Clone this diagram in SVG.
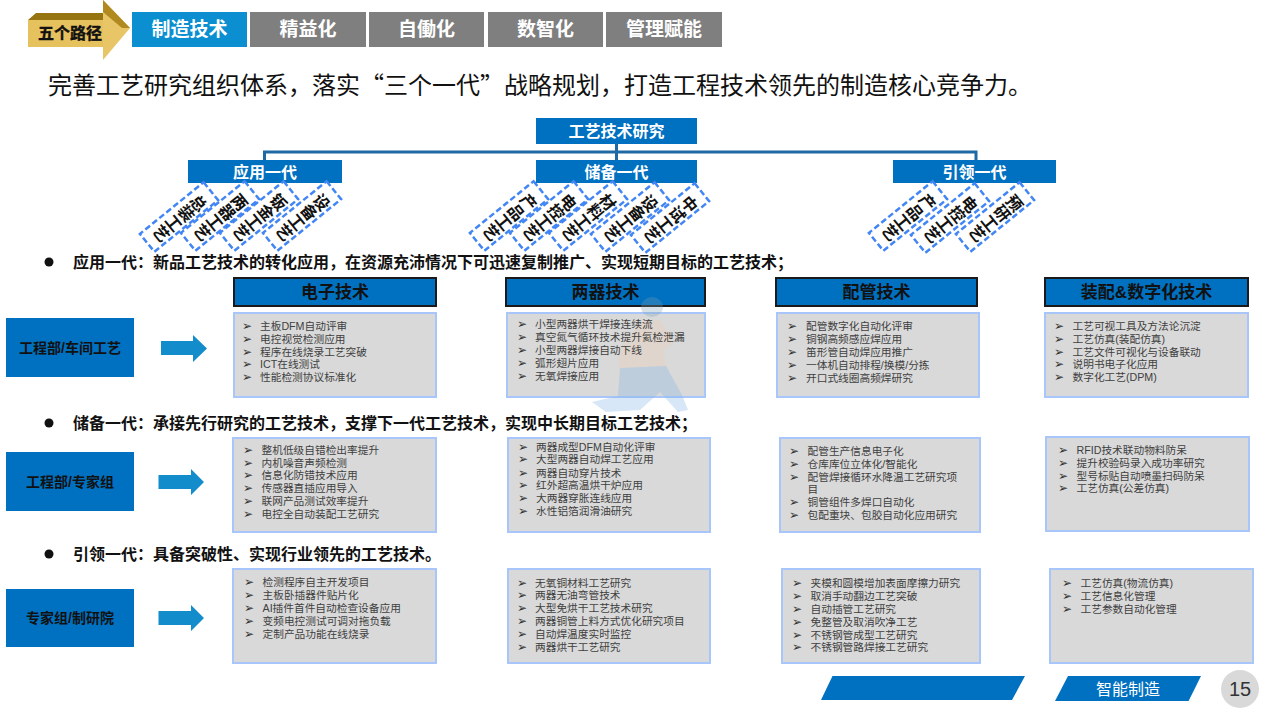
<svg xmlns="http://www.w3.org/2000/svg" width="1280" height="720" viewBox="0 0 1280 720">
<style>
text{font-family:"Liberation Sans","Noto Sans CJK SC",sans-serif}
.tab{font-size:19px;font-weight:700;fill:#fff;text-anchor:middle}
.h{fill:#0070c0}
.ht{font-size:16px;font-weight:700;fill:#fff;text-anchor:middle}
.tilt{fill:#fff;stroke:#4285f4;stroke-width:2.5;stroke-dasharray:6 3}
.tt{font-size:16px;font-weight:700;fill:#111;text-anchor:middle;writing-mode:vertical-rl}
.b{font-size:16px;font-weight:700;fill:#111}
.col{fill:#0070c0;stroke:#1a1a1a;stroke-width:2}
.ct{font-size:17px;font-weight:700;fill:#111;text-anchor:middle}
.box{fill:#d9d9d9;stroke:#a9c6fb;stroke-width:2}
.side{fill:#0070c0}
.st{font-size:14px;font-weight:700;fill:#111;text-anchor:middle}
.i{font-size:10.7px;fill:#404040;dominant-baseline:central}
.c{font-size:12px;fill:#333;font-family:"DejaVu Sans",sans-serif;dominant-baseline:central;text-anchor:middle}
.arr{fill:#138ccb}
</style>
<rect width="1280" height="720" fill="#fff"/>
<g id="path-arrow">
<path d="M28 47V20L36 13H103V20H28Z" fill="#96740f"/>
<path d="M28 20H106V47H28Z" fill="#e6c25f"/>
<path d="M103 0L130 28L103 60Z" fill="#e8c566"/>
<path d="M103 0L130 28L122 28L103 12Z" fill="#b0891f"/>
<text x="70" y="39" font-size="16" font-weight="700" fill="#111" stroke="#111" stroke-width="0.4" text-anchor="middle">五个路径</text>
</g>
<g id="tabs">
<g id="tab1"><rect x="132" y="12" width="115" height="35" fill="#0b8fd0"/><text class="tab" x="189.500" y="36">制造技术</text></g>
<g id="tab2"><rect x="250" y="12" width="116" height="35" fill="#7f7f7f"/><text class="tab" x="308" y="36">精益化</text></g>
<g id="tab3"><rect x="369" y="12" width="115" height="35" fill="#7f7f7f"/><text class="tab" x="426.500" y="36">自働化</text></g>
<g id="tab4"><rect x="488" y="12" width="115" height="35" fill="#7f7f7f"/><text class="tab" x="545.500" y="36">数智化</text></g>
<g id="tab5"><rect x="606" y="12" width="116" height="35" fill="#7f7f7f"/><text class="tab" x="664" y="36">管理赋能</text></g>
</g>
<text x="48" y="94" font-size="24" fill="#111" style="font-family:'Noto Sans CJK SC',sans-serif">完善工艺研究组织体系，落实“三个一代”战略规划，打造工程技术领先的制造核心竞争力。</text>
<g id="connectors" fill="none" stroke="#1f6aa5" stroke-width="3">
<path d="M264.500 160V152H976V160"/><path d="M616.500 144V160"/>
</g>
<g id="root"><rect class="h" x="536" y="118" width="161" height="26"/><text class="ht" x="616.500" y="137">工艺技术研究</text></g>
<g id="gen1"><rect class="h" x="188" y="160" width="154" height="23"/><text class="ht" x="265" y="177.500">应用一代</text></g>
<g id="gen2"><rect class="h" x="536" y="160" width="161" height="23"/><text class="ht" x="616.500" y="177.500">储备一代</text></g>
<g id="gen3"><rect class="h" x="893" y="160" width="163" height="23"/><text class="ht" x="974.500" y="177.500">引领一代</text></g>
<g id="tilted">
<g id="t1" transform="translate(179 217) rotate(51)"><rect class="tilt" x="-11.500" y="-41" width="23" height="82"/><text class="tt">总装工艺</text></g>
<g id="t2" transform="translate(220 216) rotate(51)"><rect class="tilt" x="-11.500" y="-41" width="23" height="82"/><text class="tt">两器工艺</text></g>
<g id="t3" transform="translate(259 216) rotate(51)"><rect class="tilt" x="-11.500" y="-41" width="23" height="82"/><text class="tt">钣金工艺</text></g>
<g id="t4" transform="translate(302 216) rotate(51)"><rect class="tilt" x="-11.500" y="-41" width="23" height="82"/><text class="tt">设备工艺</text></g>
<g id="t5" transform="translate(509 216) rotate(51)"><rect class="tilt" x="-11.500" y="-41" width="23" height="82"/><text class="tt">产品工艺</text></g>
<g id="t6" transform="translate(549 216) rotate(51)"><rect class="tilt" x="-11.500" y="-41" width="23" height="82"/><text class="tt">电控工艺</text></g>
<g id="t7" transform="translate(588 216) rotate(51)"><rect class="tilt" x="-11.500" y="-41" width="23" height="82"/><text class="tt">材料工艺</text></g>
<g id="t8" transform="translate(630 217) rotate(51)"><rect class="tilt" x="-11.500" y="-41" width="23" height="82"/><text class="tt">设备工艺</text></g>
<g id="t9" transform="translate(670 218) rotate(51)"><rect class="tilt" x="-11.500" y="-41" width="23" height="82"/><text class="tt">中试工艺</text></g>
<g id="t10" transform="translate(908 216) rotate(51)"><rect class="tilt" x="-11.500" y="-41" width="23" height="82"/><text class="tt">产品工艺</text></g>
<g id="t11" transform="translate(950 218) rotate(51)"><rect class="tilt" x="-11.500" y="-41" width="23" height="82"/><text class="tt">电控工艺</text></g>
<g id="t12" transform="translate(995 217) rotate(51)"><rect class="tilt" x="-11.500" y="-41" width="23" height="82"/><text class="tt">预研工艺</text></g>
</g>
<g id="lines">
<circle cx="49" cy="262" r="4.500" fill="#111"/><text class="b" x="73" y="268">应用一代：新品工艺技术的转化应用，在资源充沛情况下可迅速复制推广、实现短期目标的工艺技术；</text>
<circle cx="49" cy="423" r="4.500" fill="#111"/><text class="b" x="73" y="429">储备一代：承接先行研究的工艺技术，支撑下一代工艺技术，实现中长期目标工艺技术；</text>
<circle cx="49" cy="554" r="4.500" fill="#111"/><text class="b" x="73" y="560">引领一代：具备突破性、实现行业领先的工艺技术。</text>
</g>
<g id="columns">
<g id="col1"><rect class="col" x="234" y="278" width="202" height="28"/><text class="ct" x="335" y="298">电子技术</text></g>
<g id="col2"><rect class="col" x="506" y="278" width="199" height="28"/><text class="ct" x="605.500" y="298">两器技术</text></g>
<g id="col3"><rect class="col" x="776" y="278" width="201" height="28"/><text class="ct" x="876.500" y="298">配管技术</text></g>
<g id="col4"><rect class="col" x="1045" y="278" width="203" height="28"/><text class="ct" x="1146.500" y="298">装配&amp;数字化技术</text></g>
</g>
<g id="boxes">
<rect class="box" x="234" y="313" width="202" height="84"/>
<rect class="box" x="507" y="313" width="198" height="84"/>
<rect class="box" x="777" y="313" width="202" height="84"/>
<rect class="box" x="1045" y="313" width="203" height="84"/>
<rect class="box" x="233" y="438" width="203" height="94"/>
<rect class="box" x="508" y="438" width="202" height="94"/>
<rect class="box" x="780" y="438" width="200" height="94"/>
<rect class="box" x="1046" y="437" width="203" height="94"/>
<rect class="box" x="233" y="569" width="203" height="94"/>
<rect class="box" x="508" y="569" width="202" height="94"/>
<rect class="box" x="782" y="569" width="198" height="94"/>
<rect class="box" x="1050" y="569" width="203" height="94"/>
</g>
<g id="figure" opacity="0.3">
<ellipse cx="652" cy="307" rx="11" ry="10" fill="#7a9fb5"/>
<path d="M618 352L640 322L660 320L674 342L664 350L666 368L620 372Z" fill="#eecfb0"/>
<path d="M620 368L666 366L682 395L688 410L678 412L660 392L640 410L606 412L592 402L618 396Z" fill="#7fb2e6"/>
</g>
<g id="items">
<g id="c11"><text class="c" x="247" y="325.700">➢</text><text class="i" x="260" y="325.700">主板DFM自动评审</text><text class="c" x="247" y="338.500">➢</text><text class="i" x="260" y="338.500">电控视觉检测应用</text><text class="c" x="247" y="351.500">➢</text><text class="i" x="260" y="351.500">程序在线烧录工艺突破</text><text class="c" x="247" y="364.300">➢</text><text class="i" x="260" y="364.300">ICT在线测试</text><text class="c" x="247" y="377">➢</text><text class="i" x="260" y="377">性能检测协议标准化</text></g>
<g id="c12"><text class="c" x="522" y="324.300">➢</text><text class="i" x="535" y="324.300">小型两器烘干焊接连续流</text><text class="c" x="522" y="337">➢</text><text class="i" x="535" y="337">真空氮气循环技术提升氦检泄漏</text><text class="c" x="522" y="349.500">➢</text><text class="i" x="535" y="349.500">小型两器焊接自动下线</text><text class="c" x="522" y="362.500">➢</text><text class="i" x="535" y="362.500">弧形翅片应用</text><text class="c" x="522" y="375.500">➢</text><text class="i" x="535" y="375.500">无氧焊接应用</text></g>
<g id="c13"><text class="c" x="792" y="326">➢</text><text class="i" x="806" y="326">配管数字化自动化评审</text><text class="c" x="792" y="339">➢</text><text class="i" x="806" y="339">铜钢高频感应焊应用</text><text class="c" x="792" y="352">➢</text><text class="i" x="806" y="352">笛形管自动焊应用推广</text><text class="c" x="792" y="365">➢</text><text class="i" x="806" y="365">一体机自动排程/换模/分拣</text><text class="c" x="792" y="377.700">➢</text><text class="i" x="806" y="377.700">开口式线圈高频焊研究</text></g>
<g id="c14"><text class="c" x="1059" y="325.700">➢</text><text class="i" x="1072.500" y="325.700">工艺可视工具及方法论沉淀</text><text class="c" x="1059" y="338.500">➢</text><text class="i" x="1072.500" y="338.500">工艺仿真(装配仿真)</text><text class="c" x="1059" y="351.500">➢</text><text class="i" x="1072.500" y="351.500">工艺文件可视化与设备联动</text><text class="c" x="1059" y="364.300">➢</text><text class="i" x="1072.500" y="364.300">说明书电子化应用</text><text class="c" x="1059" y="377">➢</text><text class="i" x="1072.500" y="377">数字化工艺(DPM)</text></g>
<g id="c21"><text class="c" x="248" y="450">➢</text><text class="i" x="261.500" y="450">整机低级自错检出率提升</text><text class="c" x="248" y="462.700">➢</text><text class="i" x="261.500" y="462.700">内机噪音声频检测</text><text class="c" x="248" y="475.300">➢</text><text class="i" x="261.500" y="475.300">信息化防错技术应用</text><text class="c" x="248" y="488.300">➢</text><text class="i" x="261.500" y="488.300">传感器直插应用导入</text><text class="c" x="248" y="501.300">➢</text><text class="i" x="261.500" y="501.300">联网产品测试效率提升</text><text class="c" x="248" y="514">➢</text><text class="i" x="261.500" y="514">电控全自动装配工艺研究</text></g>
<g id="c22"><text class="c" x="523" y="446.700">➢</text><text class="i" x="536" y="446.700">两器成型DFM自动化评审</text><text class="c" x="523" y="459.300">➢</text><text class="i" x="536" y="459.300">大型两器自动焊工艺应用</text><text class="c" x="523" y="472.700">➢</text><text class="i" x="536" y="472.700">两器自动穿片技术</text><text class="c" x="523" y="485.300">➢</text><text class="i" x="536" y="485.300">红外超高温烘干炉应用</text><text class="c" x="523" y="498.300">➢</text><text class="i" x="536" y="498.300">大两器穿胀连线应用</text><text class="c" x="523" y="511">➢</text><text class="i" x="536" y="511">水性铝箔润滑油研究</text></g>
<g id="c23"><text class="c" x="794" y="450.700">➢</text><text class="i" x="807.500" y="450.700">配管生产信息电子化</text><text class="c" x="794" y="463.700">➢</text><text class="i" x="807.500" y="463.700">仓库库位立体化/智能化</text><text class="c" x="794" y="476.700">➢</text><text class="i" x="807.500" y="476.700">配管焊接循环水降温工艺研究项</text><text class="i" x="807.500" y="489.300">目</text><text class="c" x="794" y="502.300">➢</text><text class="i" x="807.500" y="502.300">铜管组件多焊口自动化</text><text class="c" x="794" y="515">➢</text><text class="i" x="807.500" y="515">包配重块、包胶自动化应用研究</text></g>
<g id="c24"><text class="c" x="1063" y="450">➢</text><text class="i" x="1076.500" y="450">RFID技术联动物料防呆</text><text class="c" x="1063" y="462.700">➢</text><text class="i" x="1076.500" y="462.700">提升校验码录入成功率研究</text><text class="c" x="1063" y="475.700">➢</text><text class="i" x="1076.500" y="475.700">型号标贴自动喷墨扫码防呆</text><text class="c" x="1063" y="488.300">➢</text><text class="i" x="1076.500" y="488.300">工艺仿真(公差仿真)</text></g>
<g id="c31"><text class="c" x="249" y="582">➢</text><text class="i" x="262.500" y="582">检测程序自主开发项目</text><text class="c" x="249" y="595">➢</text><text class="i" x="262.500" y="595">主板卧插器件贴片化</text><text class="c" x="249" y="608">➢</text><text class="i" x="262.500" y="608">AI插件首件自动检查设备应用</text><text class="c" x="249" y="620.700">➢</text><text class="i" x="262.500" y="620.700">变频电控测试可调对拖负载</text><text class="c" x="249" y="633.700">➢</text><text class="i" x="262.500" y="633.700">定制产品功能在线烧录</text></g>
<g id="c32"><text class="c" x="522" y="582.700">➢</text><text class="i" x="535" y="582.700">无氧铜材料工艺研究</text><text class="c" x="522" y="595.300">➢</text><text class="i" x="535" y="595.300">两器无油弯管技术</text><text class="c" x="522" y="608.300">➢</text><text class="i" x="535" y="608.300">大型免烘干工艺技术研究</text><text class="c" x="522" y="621">➢</text><text class="i" x="535" y="621">两器铜管上料方式优化研究项目</text><text class="c" x="522" y="634">➢</text><text class="i" x="535" y="634">自动焊温度实时监控</text><text class="c" x="522" y="647">➢</text><text class="i" x="535" y="647">两器烘干工艺研究</text></g>
<g id="c33"><text class="c" x="797" y="583.300">➢</text><text class="i" x="810.500" y="583.300">夹模和圆模增加表面摩擦力研究</text><text class="c" x="797" y="596.300">➢</text><text class="i" x="810.500" y="596.300">取消手动翻边工艺突破</text><text class="c" x="797" y="609">➢</text><text class="i" x="810.500" y="609">自动插管工艺研究</text><text class="c" x="797" y="622">➢</text><text class="i" x="810.500" y="622">免整管及取消吹净工艺</text><text class="c" x="797" y="634.700">➢</text><text class="i" x="810.500" y="634.700">不锈钢管成型工艺研究</text><text class="c" x="797" y="647.300">➢</text><text class="i" x="810.500" y="647.300">不锈钢管路焊接工艺研究</text></g>
<g id="c34"><text class="c" x="1067" y="583.300">➢</text><text class="i" x="1080.500" y="583.300">工艺仿真(物流仿真)</text><text class="c" x="1067" y="596">➢</text><text class="i" x="1080.500" y="596">工艺信息化管理</text><text class="c" x="1067" y="609.300">➢</text><text class="i" x="1080.500" y="609.300">工艺参数自动化管理</text></g>
</g>
<g id="side1"><rect class="side" x="6" y="318" width="128" height="59"/><text class="st" x="70" y="353">工程部/车间工艺</text></g>
<g id="side2"><rect class="side" x="6" y="452" width="128" height="59"/><text class="st" x="70" y="487">工程部/专家组</text></g>
<g id="side3"><rect class="side" x="6" y="589" width="128" height="58"/><text class="st" x="70" y="623">专家组/制研院</text></g>
<g id="arrows">
<path class="arr" d="M161 341H193V335L207 348.500L193 362V355H161Z"/>
<path class="arr" d="M158.500 475H191V469L204 482L191 495V489H158.500Z"/>
<path class="arr" d="M158.500 611H191V605L204 618L191 631V625H158.500Z"/>
</g>
<g id="footer">
<path d="M832.500 676H1025L1012 700H821Z" fill="#0070c0"/>
<path d="M1068 676H1201L1188.600 701H1055Z" fill="#0070c0"/>
<text x="1128" y="695" font-size="16" fill="#fff" text-anchor="middle">智能制造</text>
<circle cx="1240" cy="689" r="19" fill="#d9d9d9"/>
<text x="1240" y="696" font-size="20" fill="#333" text-anchor="middle">15</text>
</g>
</svg>
